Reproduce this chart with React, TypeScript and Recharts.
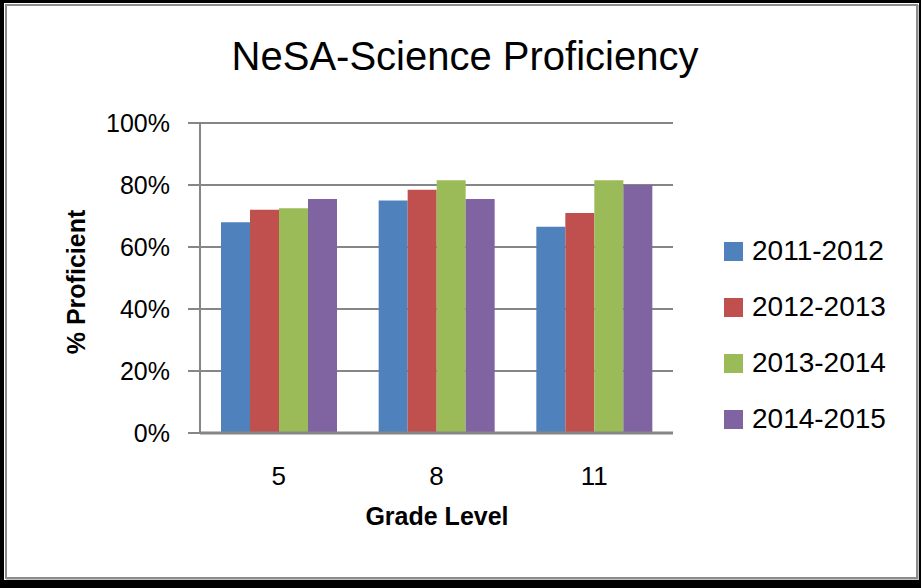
import { BarChart, Bar, XAxis, YAxis, CartesianGrid, Legend } from 'recharts';

const grades = ['5', '8', '11'];
const seriesNames = ['2011-2012', '2012-2013', '2013-2014', '2014-2015'];
const s2011 = [68, 75, 66.5];
const s2012 = [72, 78.5, 71];
const s2013 = [72.5, 81.5, 81.5];
const s2014 = [75.5, 75.5, 80];
const yTicks = [0, 20, 40, 60, 80, 100];
const colors = ['#4f81bd', '#c0504d', '#9bbb59', '#8064a2'];

const seriesValues = [s2011, s2012, s2013, s2014];
const data = grades.map((g, i) => {
  const row: Record<string, string | number> = { grade: g };
  seriesNames.forEach((name, k) => {
    row[name] = seriesValues[k][i];
  });
  return row;
});

const FONT = '"Liberation Sans", Arial, sans-serif';

function YTick({ x, y, payload }: { x?: number; y?: number; payload?: { value: number } }) {
  return (
    <text x={(x ?? 0) - 2} y={(y ?? 0) + 9} textAnchor="end" fontSize={25} fontFamily={FONT} fill="#000">
      {`${payload?.value}%`}
    </text>
  );
}

function XTick({ x, y, payload }: { x?: number; y?: number; payload?: { value: string } }) {
  return (
    <text x={x} y={(y ?? 0) + 44} textAnchor="middle" fontSize={26} fontFamily={FONT} fill="#000">
      {payload?.value}
    </text>
  );
}

function LegendBox() {
  return (
    <div style={{ fontFamily: FONT }}>
      {seriesNames.map((name, i) => (
        <div key={name} style={{ display: 'flex', alignItems: 'center', height: 56 }}>
          <div style={{ width: 19, height: 19, background: colors[i], marginRight: 9 }} />
          <span style={{ fontSize: 28, color: '#000', lineHeight: '30px' }}>{name}</span>
        </div>
      ))}
    </div>
  );
}

export default function App() {
  return (
    <div style={{ position: 'absolute', left: 0, top: 0, width: 921, height: 588, background: '#000' }}>
      <div style={{ position: 'absolute', left: 4, top: 3, width: 915, height: 577, background: '#fff' }} />
      <div
        style={{
          position: 'absolute',
          left: 5,
          top: 4,
          width: 909,
          height: 571,
          border: '2px solid #8c8c8c',
          boxShadow: '1px 1px 0 #c4c4c4',
        }}
      />
      <div style={{ position: 'absolute', left: 0, top: 0 }}>
        <BarChart
          width={921}
          height={588}
          data={data}
          margin={{ top: 123, right: 248, left: 120, bottom: 95 }}
          barCategoryGap={21}
          barGap={0}
        >
          <text x={465} y={70} textAnchor="middle" fontSize={40} fontFamily={FONT} fill="#000">
            NeSA-Science Proficiency
          </text>
          <text
            x={0}
            y={0}
            transform="translate(85,282) rotate(-90)"
            textAnchor="middle"
            fontSize={25}
            fontWeight="bold"
            fontFamily={FONT}
            fill="#000"
          >
            % Proficient
          </text>
          <text x={437} y={525} textAnchor="middle" fontSize={25} fontWeight="bold" fontFamily={FONT} fill="#000">
            Grade Level
          </text>
          <CartesianGrid vertical={false} stroke="#868686" strokeWidth={2} />
          <XAxis
            dataKey="grade"
            height={60}
            tickLine={false}
            axisLine={{ stroke: '#868686', strokeWidth: 3 }}
            tick={<XTick />}
          />
          <YAxis
            width={80}
            domain={[0, 100]}
            ticks={yTicks}
            interval={0}
            tickSize={12}
            tickMargin={16}
            tickLine={{ stroke: '#868686', strokeWidth: 2 }}
            axisLine={{ stroke: '#868686', strokeWidth: 2 }}
            tick={<YTick />}
          />
          <Legend
            layout="vertical"
            align="center"
            verticalAlign="middle"
            wrapperStyle={{ left: 724, top: 223, width: 190 }}
            content={<LegendBox />}
          />
          {seriesNames.map((name, i) => (
            <Bar key={name} dataKey={name} fill={colors[i]} isAnimationActive={false} />
          ))}
        </BarChart>
      </div>
    </div>
  );
}
